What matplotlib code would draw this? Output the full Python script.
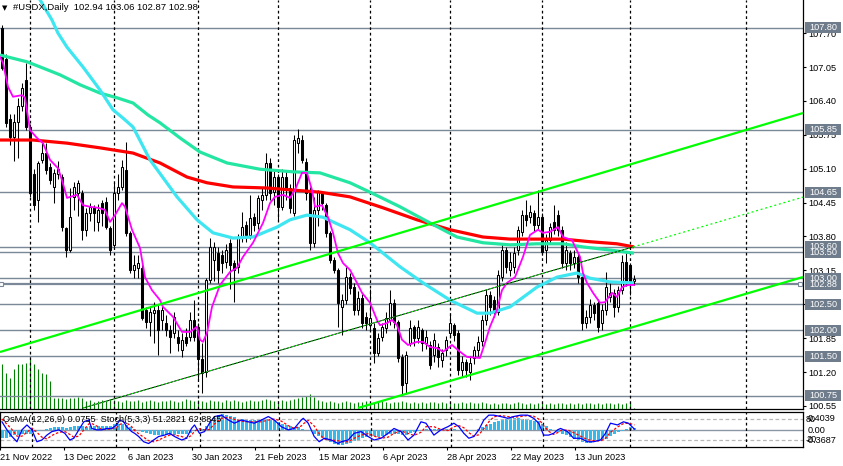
import numpy as np
import matplotlib
matplotlib.use('Agg')
import matplotlib.pyplot as plt
import matplotlib.transforms as mtransforms
from matplotlib.patches import Rectangle

plt.rcParams['font.family'] = ['Liberation Sans', 'DejaVu Sans']

# ---------------- data: daily candles (bar index 0..158) ----------------
opens = [107.80,107.20,106.05,105.71,106.00,106.30,106.80,105.90,105.00,104.50,
105.27,105.40,105.13,104.75,105.00,104.94,103.96,103.54,104.56,104.63,
104.63,103.93,104.25,104.37,104.08,104.44,104.46,103.96,103.64,104.63,
104.75,105.08,103.87,103.16,103.20,103.20,102.39,102.16,102.33,102.39,
102.20,102.14,102.01,101.95,101.87,101.62,101.87,101.87,102.20,102.07,
101.45,101.20,102.97,103.35,103.48,103.45,103.31,103.68,103.29,103.22,
103.79,104.02,103.83,104.17,104.06,104.50,104.60,105.21,104.65,104.94,
104.37,104.94,104.73,104.25,105.59,105.65,105.23,104.63,103.68,104.30,
104.65,104.40,103.87,103.35,103.16,102.45,102.58,103.02,102.83,102.39,
102.62,102.26,102.11,102.05,101.57,101.87,102.05,102.20,102.53,102.16,
101.49,100.99,101.76,102.07,101.85,102.01,101.76,101.72,101.53,101.68,
101.43,101.62,101.95,102.11,101.95,101.24,101.39,101.20,101.47,101.62,
101.80,102.20,102.68,102.58,102.35,103.02,103.54,103.16,103.22,103.54,
103.89,104.21,104.17,104.25,104.02,104.17,103.54,103.73,104.08,104.21,
103.93,103.29,103.48,103.29,103.41,103.02,102.14,102.26,102.49,102.53,
102.14,102.39,102.64,102.72,102.45,102.77,103.31,103.25,102.94]
highs = [107.85,107.30,106.15,106.15,106.45,106.75,107.12,105.95,105.10,105.25,
105.59,105.59,105.20,105.10,105.25,105.00,103.98,104.73,104.85,104.88,
104.70,104.35,104.45,104.40,104.42,104.50,104.55,104.00,104.83,105.00,
105.27,105.61,103.90,103.45,103.45,103.30,102.45,102.45,102.55,102.50,
102.50,102.30,102.10,102.35,102.00,101.95,102.05,102.35,102.58,102.15,
101.75,103.00,103.77,103.70,103.60,103.55,103.65,103.75,103.35,103.85,
104.27,104.10,104.60,104.25,104.60,104.75,105.40,105.30,105.05,105.00,
105.10,105.05,104.80,105.75,105.86,105.75,105.30,104.75,104.55,104.70,
104.67,104.45,103.90,103.40,103.20,102.70,103.22,103.10,102.90,102.75,
102.70,102.35,102.80,102.15,101.95,102.15,102.35,102.77,102.60,102.20,
101.55,101.60,102.20,102.10,102.20,102.05,102.00,101.80,101.95,101.75,
101.65,101.90,102.33,102.15,102.00,101.50,101.45,101.50,101.70,101.90,
102.30,102.80,102.75,102.65,103.15,103.65,103.60,103.50,103.60,104.00,
104.30,104.50,104.40,104.30,104.70,104.25,103.85,104.05,104.40,104.30,
104.00,103.70,103.55,103.55,103.50,103.10,102.40,102.60,102.55,102.60,
102.50,103.12,102.90,102.80,102.85,103.45,103.48,103.30,103.06]
lows = [107.00,105.90,105.55,105.25,105.30,106.20,105.85,104.55,104.31,104.08,
105.20,105.00,104.80,104.44,104.90,103.90,103.41,103.50,104.30,104.20,
103.73,103.80,104.10,103.90,103.90,104.00,103.95,103.45,103.60,104.50,
104.70,103.80,103.10,103.00,103.00,102.20,102.05,101.90,101.75,101.53,
102.00,101.90,101.57,101.85,101.60,101.49,101.70,101.80,101.80,101.05,
100.80,101.10,102.90,102.95,102.90,103.10,103.20,102.80,102.55,103.10,
103.70,103.70,103.75,103.90,103.95,104.30,104.50,104.50,104.40,104.12,
104.30,104.50,104.25,104.20,105.40,105.20,104.50,103.55,103.60,104.00,
104.30,103.79,103.30,103.10,102.07,101.91,102.50,102.70,102.30,102.30,
102.05,102.00,102.00,101.37,101.50,101.80,101.95,102.10,102.05,101.40,
100.76,100.80,101.70,101.70,101.75,101.60,101.65,101.25,101.40,101.30,
101.30,101.50,101.85,101.80,101.15,101.10,101.10,101.05,101.35,101.50,
101.70,102.10,102.30,102.25,102.30,102.95,103.10,103.05,103.10,103.45,
103.80,104.00,104.05,103.90,103.95,103.45,103.30,103.65,103.85,103.80,
103.20,103.15,103.15,103.20,102.90,102.01,102.05,102.15,102.20,101.97,
102.00,102.30,102.55,102.26,102.35,102.70,102.85,102.68,102.87]
closes = [107.03,105.97,105.71,106.00,106.30,106.65,105.90,104.63,104.40,105.21,
105.40,105.08,104.88,105.02,105.10,103.98,103.54,104.17,104.75,104.83,
103.93,104.25,104.37,104.25,104.31,104.25,103.98,103.54,104.63,104.75,
105.13,103.87,103.16,103.25,103.29,102.24,102.16,102.35,102.39,102.01,
102.39,102.01,101.87,102.26,101.76,101.82,101.76,102.20,101.87,101.45,
101.18,102.97,103.60,103.60,103.16,103.29,103.54,103.25,103.16,103.79,
103.98,103.83,104.15,104.02,104.54,104.60,105.21,104.63,104.94,104.37,
104.94,104.73,104.35,105.65,105.69,105.27,104.63,103.68,104.30,104.65,
104.45,103.87,103.35,103.16,102.53,102.58,103.02,102.81,102.39,102.62,
102.14,102.14,102.24,101.57,101.85,102.07,102.24,102.53,102.16,101.47,
100.95,101.53,102.05,101.85,102.07,101.76,101.87,101.34,101.82,101.49,
101.57,101.82,102.14,101.91,101.24,101.39,101.24,101.37,101.62,101.78,
102.20,102.68,102.45,102.35,103.06,103.54,103.22,103.31,103.48,103.93,
104.21,104.12,104.27,104.02,104.17,103.50,103.73,103.98,103.93,103.93,
103.29,103.54,103.29,103.41,103.02,102.14,102.26,102.49,102.33,102.07,
102.39,102.83,102.72,102.45,102.77,103.31,102.93,102.91,102.98]
volumes = [45,36,31,40,45,45,46,50,45,40,36,35,28,11,
11,11,10,11,11,12,11,
8,9,7,8,9,8,10,9,8,7,9,8,8,9,7,8,9,8,7,8,
8,9,8,7,8,10,9,8,9,8,7,9,8,8,7,9,8,9,8,7,8,9,8,8,9,10,9,8,8,9,
8,9,10,11,12,13,15,12,9,8,
7,8,7,6,7,8,7,6,7,7,8,7,6,7,8,7,6,7,7,8,
7,6,7,6,7,6,7,7,6,7,6,7,6,6,7,6,7,6,6,7,
6,5,6,5,6,6,5,6,7,6,5,6,5,6,6,5,6,5,6,6,
5,6,5,6,5,6,6,5,6,5,6,6,5,6,5,6,6,1]

# moving averages (bar position, price)
ma_fast_pos = [-0.5,0.25,1.5,2.75,5,5.75,7,8.75,10.25,12,14,15,16.25,18.75,20.25,22,24,25.75,27,28.25,
30,30.75,32.5,34.5,35.75,37.5,39.5,40.25,42.75,45,47,48.75,49.5,50.25,51.25,52.5,54.5,57,58.75,60.25,
62.75,65.25,67,68.25,70.25,72,73.25,75,76.25,77.5,78.25,80,81.5,82.75,84,85.25,87,88.75,90,92,
93.75,94.5,96.25,97.5,98.75,100,101.5,103.75,105.25,107,108.75,110.25,112.5,114.5,116.25,119.5,120.75,122,123.75,125,
126.25,128.25,130.25,132,134,135.25,137,139,140.25,142.5,144.5,145.25,146.25,147.75,149.5,150.75,152.5,153.75,155,156.5,158]
ma_fast = [107.24,107.13,106.67,106.48,106.51,106.46,105.84,105.69,105.59,105.27,
105.11,104.88,104.54,104.60,104.40,104.37,104.35,104.31,104.08,104.21,
104.44,104.37,103.93,103.58,103.02,102.77,102.58,102.45,102.26,101.97,
101.97,102.07,101.82,101.78,101.95,102.45,102.87,103.12,103.20,103.41,
103.68,104.06,104.44,104.56,104.60,104.54,104.69,105.02,105.02,104.69,
104.37,104.40,104.17,103.87,103.48,103.29,103.16,102.91,102.72,102.53,
102.20,102.10,102.14,102.20,102.10,101.82,101.72,101.78,101.78,101.68,
101.66,101.59,101.72,101.59,101.49,101.47,101.76,102.07,102.39,102.77,
102.91,103.02,103.41,103.83,103.93,103.87,103.89,103.98,103.79,103.73,
103.41,103.10,102.91,102.72,102.53,102.54,102.72,102.64,102.83,102.87,
102.87]
ma50_pos = [7,9.5,12.5,14,16.25,20.25,24.5,27.75,30.25,32.75,37,43.75,48.75,52.75,57.75,62.75,68.75,72,76.25,80.25,
82.75,87,92,99.5,105.25,112,118.75,122,127,133.75,138.75,143.75,147,152,158]
ma50 = [108.64,108.34,107.95,107.70,107.43,107.05,106.61,106.23,106.07,105.90,105.27,104.56,104.12,103.87,103.77,103.79,103.98,104.12,104.21,104.17,
104.08,103.93,103.68,103.22,102.91,102.58,102.33,102.33,102.45,102.83,103.02,103.10,103.00,102.93,102.91]
ma100_pos = [-0.5,6.25,10.25,14.5,19.5,24.5,28.75,32.75,36.5,39.5,44.5,49.5,56.25,64.5,72.75,79.5,87,92,99.5,107,
113.75,120.25,127,133.75,140.25,145.25,152,158]
ma100 = [107.28,107.15,107.03,106.90,106.71,106.55,106.46,106.36,106.13,105.98,105.69,105.42,105.21,105.09,105.04,105.02,104.83,104.65,104.37,104.06,
103.79,103.68,103.64,103.66,103.66,103.60,103.54,103.48]
ma200_pos = [-0.5,7.75,16.25,24.5,32.75,39.5,46.25,51.25,57.75,66.25,72.75,79.5,87,95.25,103.75,112,120.25,127,133.75,140.25,147,153.75,158]
ma200 = [105.65,105.65,105.59,105.50,105.40,105.21,104.94,104.83,104.75,104.73,104.69,104.65,104.56,104.35,104.12,103.93,103.79,103.75,103.75,103.75,103.70,103.66,103.60]

# trend lines (bar position, price)
upper_line_pos, upper_line = [-0.5, 200.25], [101.585, 106.168]
lower_line_pos, lower_line = [89, 200.25], [100.511, 103.023]
mid_line_pos, mid_line = [20.25, 157.75], [100.511, 103.599]
mid_ext_pos, mid_ext = [157.75, 200.25], [103.599, 104.555]

# horizontal levels
levels = [107.80, 105.85, 104.65, 103.50, 103.60, 103.00, 102.88, 102.50, 102.00, 101.50, 100.75]
price_ticks = [100.55, 101.20, 101.85, 102.50, 103.15, 103.80, 104.45, 105.10, 105.75, 106.40, 107.05, 107.70]
month_sep = [7, 28, 49, 69, 92, 112, 135, 157, 186]
date_pos = [-1, 15, 31, 47, 63, 79, 95, 111, 127, 143]
date_labels = ['21 Nov 2022', '13 Dec 2022', '6 Jan 2023', '30 Jan 2023', '21 Feb 2023',
               '15 Mar 2023', '6 Apr 2023', '28 Apr 2023', '22 May 2023', '13 Jun 2023']

# oscillators
osma = [-0.26,-0.26,-0.24,-0.18,-0.16,-0.15,-0.15,-0.12,-0.06,-0.03,
0.02,0.06,0.09,0.10,0.11,0.10,0.09,0.12,0.14,0.15,
0.14,0.13,0.14,0.15,0.16,0.17,0.16,0.17,0.21,0.23,
0.22,0.20,0.12,0.05,0.00,-0.06,-0.11,-0.14,-0.16,-0.17,
-0.17,-0.16,-0.17,-0.16,-0.15,-0.14,-0.12,-0.08,-0.04,-0.02,
0.05,0.15,0.30,0.45,0.55,0.57,0.56,0.52,0.46,0.42,
0.40,0.38,0.37,0.36,0.38,0.40,0.42,0.40,0.36,0.30,
0.24,0.18,0.14,0.12,0.10,0.06,0.02,-0.04,-0.12,-0.20,
-0.28,-0.36,-0.42,-0.48,-0.51,-0.52,-0.50,-0.46,-0.40,-0.34,
-0.28,-0.24,-0.22,-0.22,-0.24,-0.22,-0.18,-0.14,-0.12,-0.14,
-0.18,-0.16,-0.10,-0.05,-0.02,0.02,0.04,0.05,0.04,0.03,
0.04,0.06,0.06,0.04,0.00,-0.03,-0.04,-0.02,0.02,0.06,
0.12,0.18,0.24,0.28,0.33,0.38,0.42,0.44,0.44,0.43,
0.42,0.41,0.38,0.35,0.32,0.24,0.14,0.06,0.00,-0.06,
-0.12,-0.18,-0.24,-0.30,-0.36,-0.42,-0.44,-0.44,-0.43,-0.40,
-0.36,-0.30,-0.22,-0.12,-0.06,-0.02,0.06,0.10,0.0755]
stoch_pos = [-0.5,0.75,2,3.25,4.5,5.75,7,8.25,9.5,10.75,12,13.75,15.25,16.5,17.5,18.75,20,21.25,22,23.25,
24.5,25.75,27,28.25,29,30,30.75,32,32.75,33.75,35,36.25,37.5,38.75,40.25,41.5,42.75,44.5,45.75,47,
47.75,49,50.25,51.5,52.75,54.5,56.25,57.75,59.5,61.25,62.75,64.5,66.25,67.75,69.5,71.25,72.75,74.5,75,76.25,
77.75,79,80.25,82,83.75,84.5,86.25,87.75,89.5,91.25,92.75,94.5,96.25,97.75,99.5,101.25,102.75,104.5,105.75,107.75,
109.5,111.25,112.75,114,115.25,116.5,117.75,119,120.25,121.5,122.75,124.5,126.25,127.75,129.5,131.25,132.75,134,135.25,136.5,
137.75,138.75,139.5,141.25,142.75,144.5,146.25,147.75,149.5,150.75,152,153.75,155.25,156.5,158]
stoch_main = [72,49,30,15,49,63,49,15,20,34,44,49,39,20,25,49,72,77,53,49,
49,53,53,63,77,72,58,44,39,30,15,10,20,30,34,39,30,20,25,53,
63,39,44,68,87,91,77,68,77,72,68,77,87,77,58,49,53,77,82,68,
30,15,25,20,10,15,20,39,44,30,20,25,39,53,44,20,34,72,68,34,
49,58,68,58,39,25,30,49,77,91,91,87,82,87,91,91,82,68,34,34,
39,49,53,44,25,25,15,15,20,39,68,63,72,68,51.28]
stoch_signal = [80,65,50,31,31,42,54,42,28,23,33,42,44,36,28,31,49,66,67,60,
50,50,52,56,64,70,69,58,47,38,28,18,15,20,28,34,34,30,25,33,
46,52,49,50,66,82,85,79,74,72,72,72,77,80,74,61,53,60,66,76,
60,38,23,20,18,15,15,25,34,38,31,25,28,39,46,39,33,42,58,58,
50,47,58,61,55,41,31,35,52,72,86,90,87,85,87,90,88,80,61,45,
36,41,47,49,41,31,21,18,17,25,42,57,67,68,62.88]

# ---------------- figure ----------------
W, H = 843, 466
fig = plt.figure(figsize=(W / 100, H / 100), dpi=100)
fig.patch.set_facecolor('white')

def fx(px):
    return px / W

def fy(py):
    return 1 - py / H

main_rect = [0, fy(409), fx(803), fy(0) - fy(409)]
ind_rect = [0, fy(447), fx(803), fy(412) - fy(447)]
XMIN, XMAX = -0.5, 200.25
FS = 6.6
LEVEL_C = '#7a8898'
BOX_C = '#6f7c8b'

idx = np.arange(len(closes))
o = np.array(opens); c = np.array(closes); h = np.array(highs); l = np.array(lows)

# volume layer (behind)
ax_vol = fig.add_axes(main_rect, zorder=0)
ax_vol.set_xlim(XMIN, XMAX)
ax_vol.set_ylim(0, 409)
ax_vol.axis('off')
ax_vol.vlines(idx, 0, volumes, color='#008000', lw=0.8)

# price layer
ax = fig.add_axes(main_rect, zorder=1)
ax.patch.set_visible(False)
ax.set_xlim(XMIN, XMAX)
ax.set_ylim(100.492, 108.335)
for s in ['top', 'left']:
    ax.spines[s].set_visible(False)
for s in ['right', 'bottom']:
    ax.spines[s].set_color('black'); ax.spines[s].set_linewidth(0.9)
ax.tick_params(axis='x', bottom=False, labelbottom=False)
ax.yaxis.tick_right()
ax.set_yticks(price_ticks)
ax.set_yticklabels([f'{t:.2f}' for t in price_ticks])
ax.tick_params(axis='y', right=True, left=False, length=2.5, width=0.8, pad=1.5, labelsize=FS, colors='black')

for lv in levels:
    ax.axhline(lv, color=LEVEL_C, lw=1.6 if lv == 102.88 else 1.0, zorder=1)
for m in month_sep:
    ax.axvline(m, color='black', lw=0.9, dashes=(2.2, 2.2), zorder=1)

# trend lines
ax.plot(upper_line_pos, upper_line, color='#00ff00', lw=1.6, zorder=6, solid_capstyle='butt')
ax.plot(lower_line_pos, lower_line, color='#00ff00', lw=1.6, zorder=6, solid_capstyle='butt')
ax.plot(mid_line_pos, mid_line, color='black', lw=0.7, zorder=6)
ax.plot(mid_line_pos, mid_line, color='#00ff00', lw=0.7, dashes=(2, 2), zorder=6)
ax.plot(mid_ext_pos, mid_ext, color='#00ff00', lw=0.9, dashes=(1.6, 2.2), zorder=6)

# candles
up = c >= o
ax.vlines(idx, l, h, color='black', lw=0.75, zorder=3)
ax.bar(idx[up], c[up] - o[up], bottom=o[up], width=0.55, color='white', edgecolor='black', linewidth=0.75, zorder=4)
ax.bar(idx[~up], o[~up] - c[~up], bottom=c[~up], width=0.55, color='black', edgecolor='black', linewidth=0.75, zorder=4)

# moving averages
ax.plot(ma200_pos, ma200, color='#ff0000', lw=2.3, zorder=5, solid_capstyle='butt')
ax.plot(ma100_pos, ma100, color='#22e6a2', lw=2.3, zorder=5, solid_capstyle='butt')
ax.plot(ma50_pos, ma50, color='#3de6f0', lw=2.3, zorder=5, solid_capstyle='butt')
ax.plot(ma_fast_pos, ma_fast, color='#ff00ff', lw=1.3, zorder=5)

# selected-line anchors
ax.plot([XMIN + 0.35, XMAX - 0.7], [102.88, 102.88], ls='none', marker='s', ms=3.5,
        mfc='white', mec=LEVEL_C, mew=0.8, zorder=7, clip_on=False)

# level boxes on the price scale
btr = mtransforms.blended_transform_factory(ax.transAxes, ax.transData)
bh = 11 / 52.15
for lv in levels:
    ax.add_patch(Rectangle((805 / 803, lv - bh / 2), 36 / 803, bh, transform=btr,
                           fc=BOX_C, ec='none', clip_on=False, zorder=8))
    ax.text(809 / 803, lv, f'{lv:.2f}', transform=btr, color='white', fontsize=FS,
            va='center', ha='left', clip_on=False, zorder=9)

# ---------------- indicator window ----------------
ax_os = fig.add_axes(ind_rect, zorder=0)
ax_os.set_xlim(XMIN, XMAX)
ax_os.set_ylim(-0.597, 0.654)
ax_os.axis('off')
ax_os.bar(idx, osma, width=0.75, color='#33bbee', zorder=2)
ax_os.axhline(0, color='#8a96a4', lw=1.0, zorder=1)

ax_st = fig.add_axes(ind_rect, zorder=1)
ax_st.patch.set_visible(False)
ax_st.set_xlim(XMIN, XMAX)
ax_st.set_ylim(0, 100)
for s in ax_st.spines.values():
    s.set_color('black'); s.set_linewidth(0.9)
ax_st.set_yticks([])
ax_st.set_xticks(date_pos)
ax_st.set_xticklabels([])
ax_st.tick_params(axis='x', length=2.5, width=0.8, direction='out')
ax_st.axhline(80, color='#b8b8b8', lw=0.9, dashes=(3, 2), zorder=1)
ax_st.axhline(20, color='#b8b8b8', lw=0.9, dashes=(3, 2), zorder=1)
for m in month_sep:
    ax_st.axvline(m, color='black', lw=0.9, dashes=(2.2, 2.2), zorder=1)
ax_st.plot(stoch_pos, stoch_signal, color='#ff0000', lw=0.9, dashes=(2, 1.5), zorder=3)
ax_st.plot(stoch_pos, stoch_main, color='#0000ff', lw=0.9, zorder=4)

otr = mtransforms.blended_transform_factory(ax_os.transAxes, ax_os.transData)
strn = mtransforms.blended_transform_factory(ax_st.transAxes, ax_st.transData)
ax_st.text(806 / 803, 80, '80', transform=strn, fontsize=FS, va='center', ha='left', clip_on=False)
ax_st.text(806 / 803, 20, '20', transform=strn, fontsize=FS, va='center', ha='left', clip_on=False)
ax_os.text(808 / 803, 0.4039, '0.4039', transform=otr, fontsize=FS, va='center', ha='left', clip_on=False)
ax_os.text(808 / 803, 0.0, '0.00', transform=otr, fontsize=FS, va='center', ha='left', clip_on=False)
ax_os.text(806 / 803, -0.3687, '-0.3687', transform=otr, fontsize=FS, va='center', ha='left', clip_on=False)

xtr = ax_st.get_xaxis_transform()
for p, lab in zip(date_pos, date_labels):
    ax_st.text(p, -0.29, lab, transform=xtr, fontsize=FS, ha='left', va='center', clip_on=False)

# ---------------- header texts ----------------
fig.text(fx(2), fy(8), '\u25bc', fontsize=5, va='center', ha='left', family=['DejaVu Sans'])
fig.text(fx(13), fy(8), '#USDX,Daily  102.94 103.06 102.87 102.98', fontsize=FS + 0.2, va='center', ha='left')
fig.text(fx(3), fy(420), 'OsMA(12,26,9) 0.0755  Stoch(5,3,3) 51.2821 62.8845', fontsize=FS, va='center', ha='left')

fig.savefig('out.png', dpi=100, facecolor='white')
